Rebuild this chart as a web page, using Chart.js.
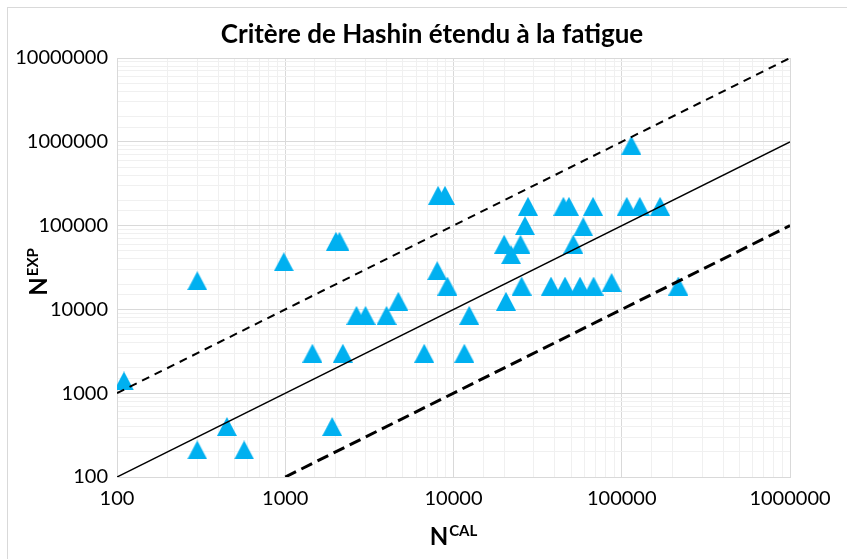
<!DOCTYPE html>
<html>
<head>
<meta charset="utf-8">
<title>Critère de Hashin étendu à la fatigue</title>
<script src="https://cdn.jsdelivr.net/npm/chart.js@4/dist/chart.umd.min.js"></script>
<style>
  html, body { margin: 0; padding: 0; background: #ffffff; }
  #wrap { width: 847px; height: 559px; position: relative; }
</style>
</head>
<body>
<div id="wrap"><canvas id="chart" width="847" height="559"></canvas></div>
<script>
// Calculated life (N_CAL) and experimental life (N_EXP) of each specimen
const calcCycles = [
  110, 300, 300, 450, 570, 980, 1450, 2200, 1900, 2000,
  2100, 2650, 3000, 4000, 4700, 6700, 8100, 8900, 8000, 9200,
  11600, 12400, 20000, 25000, 22000, 20500, 25400, 26600, 27700, 38000,
  46000, 56500, 68000, 87000, 51500, 59000, 45000, 48500, 67500, 107000,
  128000, 169000, 114000, 217000
];
const expCycles = [
  1400, 22000, 210, 400, 210, 37000, 3000, 3000, 400, 65000,
  65000, 8500, 8500, 8500, 12500, 3000, 230000, 230000, 29000, 19000,
  3000, 8500, 60000, 60000, 45000, 12500, 19000, 100000, 170000, 19000,
  19000, 19000, 19000, 21000, 60000, 97000, 170000, 170000, 170000, 170000,
  170000, 170000, 910000, 19000
];

// Reference lines: N_EXP = N_CAL, and the factor-10 scatter band
const perfectLineCal = [100, 1000000];
const perfectLineExp = [100, 1000000];
const upperBandCal = [100, 1000000];
const upperBandExp = [1000, 10000000];
const lowerBandCal = [1000, 1000000];
const lowerBandExp = [100, 100000];

// Labelled decades on each axis
const xTickLabels = [100, 1000, 10000, 100000, 1000000];
const yTickLabels = [100, 1000, 10000, 100000, 1000000, 10000000];

const titleText = 'Critère de Hashin étendu à la fatigue';
const xTitleMain = 'N', xTitleSup = 'CAL';
const yTitleMain = 'N', yTitleSup = 'EXP';

const markerColor = '#00B0F0';
const FONT = 'Lato, "Open Sans", "Liberation Sans", sans-serif';

function pairs(xs, ys) {
  return xs.map((x, i) => ({ x: x, y: ys[i] }));
}

function isLabelled(list, v) {
  return list.some(t => Math.abs(t - v) / t < 1e-9);
}

// Filled triangle marker, centred on its bounding box
function triangleMarker(w, h, color) {
  const c = document.createElement('canvas');
  c.width = w; c.height = h;
  const g = c.getContext('2d');
  g.fillStyle = color;
  g.beginPath();
  g.moveTo(w / 2, 0);
  g.lineTo(w, h);
  g.lineTo(0, h);
  g.closePath();
  g.fill();
  return c;
}

// Chart frame, title and axis titles with superscripts
const decorations = {
  id: 'decorations',
  beforeDraw(chart) {
    const ctx = chart.ctx;
    ctx.save();
    ctx.fillStyle = '#ffffff';
    ctx.fillRect(0, 0, chart.width, chart.height);
    ctx.strokeStyle = '#d9d9d9';
    ctx.lineWidth = 1;
    ctx.strokeRect(7.5, 7.5, chart.width + 20, chart.height + 20);
    ctx.restore();
  },
  afterDraw(chart) {
    const ctx = chart.ctx;
    const area = chart.chartArea;
    ctx.save();
    ctx.fillStyle = '#000000';
    ctx.textBaseline = 'alphabetic';

    // Title
    ctx.font = 'bold 26px ' + FONT;
    ctx.textAlign = 'center';
    ctx.fillText(titleText, 432, 43);

    // X axis title: N with superscript CAL
    const mainFont = 'bold 24px ' + FONT;
    const supFont = 'bold 15px ' + FONT;
    ctx.font = mainFont;
    const wN = ctx.measureText(xTitleMain).width;
    ctx.font = supFont;
    const wCal = ctx.measureText(xTitleSup).width;
    const xc = (area.left + area.right) / 2;
    const x0 = xc - (wN + wCal + 1) / 2;
    ctx.textAlign = 'left';
    ctx.font = mainFont;
    ctx.fillText(xTitleMain, x0, 545);
    ctx.font = supFont;
    ctx.fillText(xTitleSup, x0 + wN + 1, 536);

    // Y axis title, rotated: N with superscript EXP
    ctx.font = supFont;
    const wExp = ctx.measureText(yTitleSup).width;
    ctx.save();
    ctx.translate(47, 272);
    ctx.rotate(-Math.PI / 2);
    const y0 = -(wN + wExp + 1) / 2;
    ctx.font = mainFont;
    ctx.fillText(yTitleMain, y0, 0);
    ctx.font = supFont;
    ctx.fillText(yTitleSup, y0 + wN + 1, -9);
    ctx.restore();

    ctx.restore();
  }
};

const majorGrid = '#d9d9d9';
const minorGrid = '#f0f0f0';

new Chart(document.getElementById('chart'), {
  type: 'scatter',
  data: {
    datasets: [
      {
        label: 'N_EXP = N_CAL',
        data: pairs(perfectLineCal, perfectLineExp),
        showLine: true,
        borderColor: '#000000',
        borderWidth: 1.5,
        pointRadius: 0,
        fill: false,
        order: 0
      },
      {
        label: 'Facteur 10 (haut)',
        data: pairs(upperBandCal, upperBandExp),
        showLine: true,
        borderColor: '#000000',
        borderWidth: 2,
        borderDash: [8, 6],
        pointRadius: 0,
        fill: false,
        order: 0
      },
      {
        label: 'Facteur 10 (bas)',
        data: pairs(lowerBandCal, lowerBandExp),
        showLine: true,
        borderColor: '#000000',
        borderWidth: 3,
        borderDash: [12, 6],
        pointRadius: 0,
        fill: false,
        order: 0
      },
      {
        label: 'Essais',
        data: pairs(calcCycles, expCycles),
        pointStyle: triangleMarker(20, 19, markerColor),
        pointRadius: 10,
        backgroundColor: markerColor,
        borderColor: markerColor,
        order: 1
      }
    ]
  },
  options: {
    responsive: false,
    devicePixelRatio: 1,
    animation: false,
    events: [],
    layout: { padding: { left: 0, right: 57, top: 58, bottom: 0 } },
    plugins: {
      legend: { display: false },
      tooltip: { enabled: false },
      title: { display: false }
    },
    scales: {
      x: {
        type: 'logarithmic',
        position: 'bottom',
        min: 100,
        max: 1000000,
        afterFit(scale) { scale.height = 82; },
        border: { color: majorGrid },
        grid: {
          drawTicks: false,
          lineWidth: 1,
          color: (c) => (c.tick && isLabelled(xTickLabels, c.tick.value)) ? majorGrid : minorGrid
        },
        ticks: {
          autoSkip: false,
          maxRotation: 0,
          minRotation: 0,
          padding: 10,
          color: '#000000',
          font: { family: FONT, size: 20 },
          callback: (v) => isLabelled(xTickLabels, v) ? String(Math.round(v)) : ''
        }
      },
      y: {
        type: 'logarithmic',
        position: 'left',
        min: 100,
        max: 10000000,
        afterFit(scale) { scale.width = 117; },
        border: { color: majorGrid },
        grid: {
          drawTicks: false,
          lineWidth: 1,
          color: (c) => (c.tick && isLabelled(yTickLabels, c.tick.value)) ? majorGrid : minorGrid
        },
        ticks: {
          autoSkip: false,
          padding: 9,
          color: '#000000',
          font: { family: FONT, size: 20 },
          callback: (v) => isLabelled(yTickLabels, v) ? String(Math.round(v)) : ''
        }
      }
    }
  },
  plugins: [decorations]
});
</script>
</body>
</html>
